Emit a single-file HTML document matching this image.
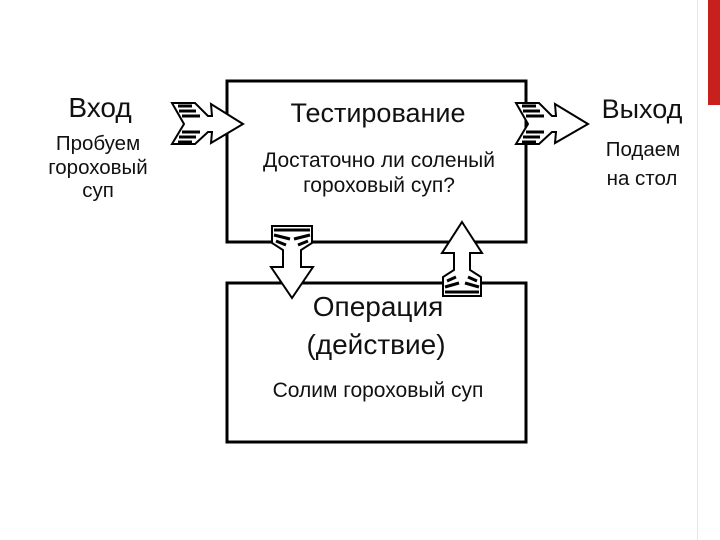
<!DOCTYPE html>
<html><head><meta charset="utf-8"><style>
body{margin:0;width:720px;height:540px;background:#fff;overflow:hidden;position:relative;font-family:"Liberation Sans","DejaVu Sans",sans-serif;}
</style></head><body>
<div style="position:absolute;left:708px;top:0;width:12px;height:105px;background:#c8201c"></div>
<div style="position:absolute;left:697px;top:0;width:1px;height:540px;background:#e6e6e6"></div>
<svg width="720" height="540" style="position:absolute;left:0;top:0" font-family="Liberation Sans, DejaVu Sans, sans-serif">
<rect x="227" y="81" width="299" height="161" fill="none" stroke="#000" stroke-width="3"/>
<rect x="227" y="283" width="299" height="159" fill="none" stroke="#000" stroke-width="3"/>
<g stroke="#000" stroke-width="2" fill="#fff">
<polygon points="172,103 195,103 208,116 212,116 211,104 243,124 211,143 212,132 208,132 195,144 172,144 184,124"/>
<g stroke-width="3"><line x1="178" y1="106" x2="192" y2="106"/><line x1="179" y1="111" x2="196" y2="111"/><line x1="182" y1="116" x2="200" y2="116"/><line x1="182" y1="132" x2="200" y2="132"/><line x1="179" y1="137" x2="196" y2="137"/><line x1="178" y1="142" x2="192" y2="142"/></g>
<polygon points="516,103 539,103 552,116 556,116 555,104 588,124 555,143 556,132 552,132 539,144 516,144 528,124"/>
<g stroke-width="3"><line x1="522" y1="106" x2="536" y2="106"/><line x1="523" y1="111" x2="540" y2="111"/><line x1="526" y1="116" x2="544" y2="116"/><line x1="526" y1="132" x2="544" y2="132"/><line x1="523" y1="137" x2="540" y2="137"/><line x1="522" y1="142" x2="536" y2="142"/></g>
<polygon points="272,226 312,226 312,243 301,250 301,267 313,267 292,298 271,267 283,267 283,250 272,243"/>
<g stroke-width="3"><line x1="274" y1="230" x2="310" y2="230"/><line x1="274" y1="235" x2="290" y2="239"/><line x1="310" y1="235" x2="294" y2="239"/><line x1="276" y1="241" x2="286" y2="245"/><line x1="308" y1="241" x2="298" y2="245"/></g>
<polygon points="462,222 482,253 470,253 470,270 481,277 481,296 443,296 443,277 454,270 454,253 442,253"/>
<g stroke-width="3"><line x1="445" y1="292" x2="479" y2="292"/><line x1="445" y1="287" x2="459" y2="283"/><line x1="479" y1="287" x2="465" y2="283"/><line x1="447" y1="281" x2="456" y2="277"/><line x1="477" y1="281" x2="468" y2="277"/></g>
</g>
<g fill="#111" text-anchor="middle">
<text x="100" y="117" font-size="28">Вход</text>
<text x="98" y="150" font-size="20.5">Пробуем</text>
<text x="98" y="174" font-size="20.5">гороховый</text>
<text x="98" y="197" font-size="20.5">суп</text>
<text x="642" y="118" font-size="27">Выход</text>
<text x="643" y="156" font-size="20.5">Подаем</text>
<text x="642" y="185" font-size="20.5">на стол</text>
<text x="378" y="122" font-size="27">Тестирование</text>
<text x="379" y="167" font-size="21">Достаточно ли соленый</text>
<text x="379" y="192" font-size="21">гороховый суп?</text>
<text x="378" y="316" font-size="28">Операция</text>
<text x="376" y="354" font-size="28">(действие)</text>
<text x="378" y="397" font-size="21">Солим гороховый суп</text>
</g>
</svg>
</body></html>
